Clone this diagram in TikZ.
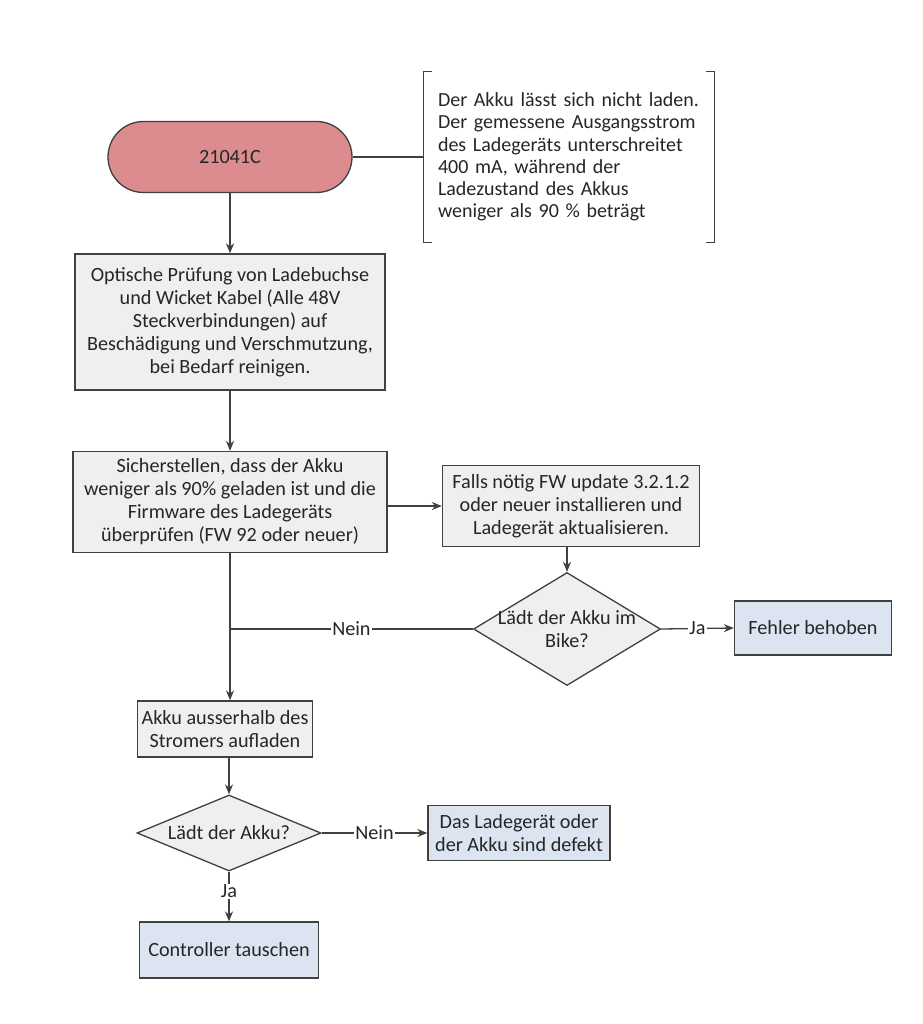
\documentclass[tikz,border=0pt]{standalone}
\usepackage{fontspec}
\setmainfont{Carlito}
\usetikzlibrary{shapes.geometric,shapes.misc,arrows.meta}
\definecolor{lineC}{HTML}{404040}
\definecolor{grayF}{HTML}{EFEFEF}
\definecolor{blueF}{HTML}{DCE3F1}
\definecolor{pinkF}{HTML}{DC8B8E}
\definecolor{txtC}{HTML}{262626}
\tikzset{
  base/.style={draw=lineC, line width=1.3pt, text=txtC, align=center, inner sep=0pt,
    font=\fontsize{20.2}{23}\selectfont},
  procbox/.style={base, fill=grayF, rectangle},
  endbox/.style={base, fill=blueF, rectangle},
  dia/.style={base, fill=grayF, diamond},
  conn/.style={draw=lineC, line width=1.3pt},
  arr/.style={conn, -{Stealth[length=10pt,width=8pt]}},
  lab/.style={fill=white, inner sep=1pt, text=txtC, font=\fontsize{20.2}{23}\selectfont},
}
\begin{document}
\begin{tikzpicture}[x=1pt,y=-1pt]
\useasboundingbox[fill=white] (0,0) rectangle (922,1024);

\node[base, fill=pinkF, rounded rectangle, minimum width=244, minimum height=71] (start) at (230,157) {21041C};
\node[text=txtC, align=left, text width=262, inner xsep=14, inner ysep=0, minimum height=170,
  font=\fontsize{20}{22.2}\selectfont] (annot) at (569,157)
  {Der Akku lässt sich nicht laden.\\Der gemessene Ausgangsstrom\\des Ladegeräts unterschreitet\\400 mA, während der\\Ladezustand des Akkus\\weniger als 90 \% beträgt};
\draw[conn] ([xshift=8pt]annot.north west) -- (annot.north west) -- (annot.south west) -- ([xshift=8pt]annot.south west);
\draw[conn] ([xshift=-8pt]annot.north east) -- (annot.north east) -- (annot.south east) -- ([xshift=-8pt]annot.south east);

\node[procbox, minimum width=310, minimum height=136] (b1) at (230,322)
  {Optische Prüfung von Ladebuchse\\und Wicket Kabel (Alle 48V\\Steckverbindungen) auf\\Beschädigung und Verschmutzung,\\bei Bedarf reinigen.};
\node[procbox, minimum width=314, minimum height=101] (b2) at (230,502)
  {Sicherstellen, dass der Akku\\weniger als 90\% geladen ist und die\\Firmware des Ladegeräts\\überprüfen (FW 92 oder neuer)};
\node[procbox, minimum width=257, minimum height=81] (fw) at (571,506)
  {Falls nötig FW update 3.2.1.2\\oder neuer installieren und\\Ladegerät aktualisieren.};
\node[dia, minimum width=187, minimum height=113,
  label={[text=txtC, align=center, font=\fontsize{20.2}{23}\selectfont]center:Lädt der Akku im\\Bike?}] (d1) at (567,629) {};
\node[endbox, minimum width=157, minimum height=54] (ok) at (813,628) {Fehler behoben};
\node[procbox, minimum width=175, minimum height=56] (b3) at (225,729)
  {Akku ausserhalb des\\Stromers aufladen};
\node[dia, minimum width=184, minimum height=76,
  label={[text=txtC, font=\fontsize{20.2}{23}\selectfont]center:Lädt der Akku?}] (d2) at (229,833) {};
\node[endbox, minimum width=182, minimum height=55] (def) at (519,833)
  {Das Ladegerät oder\\der Akku sind defekt};
\node[endbox, minimum width=179, minimum height=56] (ctrl) at (229,950) {Controller tauschen};

\draw[conn] (start.east) -- (annot.west);
\draw[arr] (start.south) -- (b1.north);
\draw[arr] (b1.south) -- (b2.north);
\draw[arr] (b2.east |- fw.west) -- (fw.west);
\draw[arr] (fw.south -| d1.north) -- (d1.north);
\draw[arr] (b2.south) -- (b3.north -| b2.south);
\coordinate (j1) at (b2.south |- d1.west);
\draw[conn] (d1.west) -- node[lab] {Nein} (j1);
\draw[arr] (d1.east) -- node[lab] {Ja} (ok.west);
\draw[arr] (b3.south -| d2.north) -- (d2.north);
\draw[arr] (d2.east) -- node[lab] {Nein} (def.west);
\draw[arr] (d2.south) -- node[lab, pos=0.4] {Ja} (ctrl.north);
\end{tikzpicture}
\end{document}
